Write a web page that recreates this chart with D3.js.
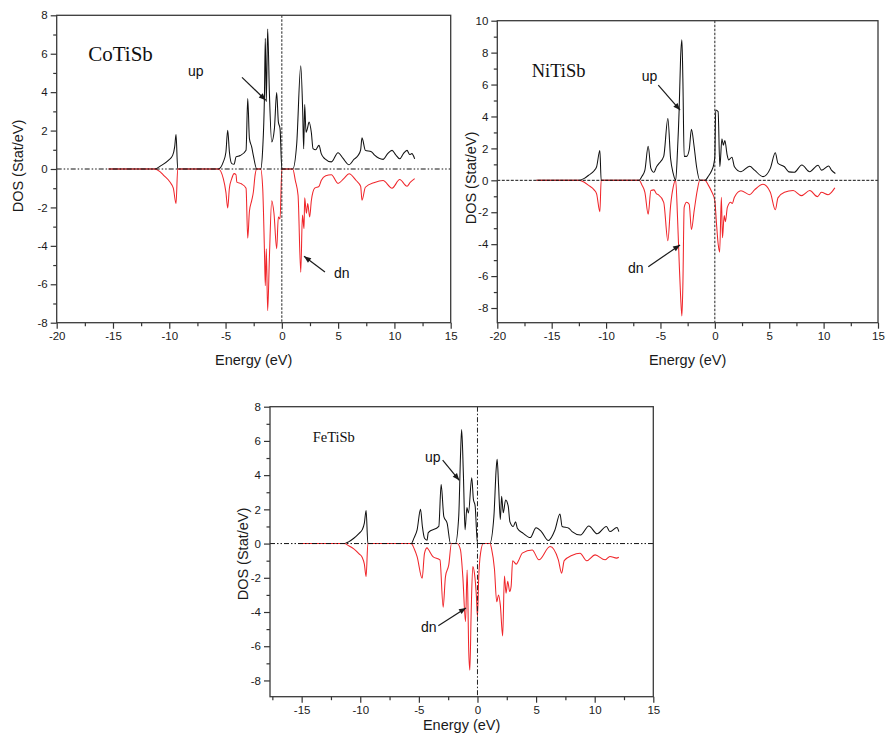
<!DOCTYPE html>
<html><head><meta charset="utf-8">
<script src="https://cdn.jsdelivr.net/npm/d3@7"></script>
<style>body{margin:0;background:#fff}svg{display:block}</style>
</head><body>
<svg id="c" width="886" height="736"></svg>
<script>
// ---------- DATA (Energy eV, DOS states/eV) ----------
const coTiSbUp = [[-15.4,0],[-11.3,0],[-10.7,0.19],[-10.08,0.45],[-9.7,0.71],[-9.52,1.15],[-9.4,1.8],[-9.25,0],[-5.64,0],[-5.2,0.37],[-4.97,0.87],[-4.81,2.02],[-4.66,0.9],[-4.45,0.28],[-4.24,0.25],[-4.07,0.63],[-3.7,0.7],[-3.18,0.98],[-3.03,3.67],[-2.88,1.58],[-2.68,1.15],[-2.53,0.7],[-2.23,0],[-1.88,0],[-1.7,1.06],[-1.55,3.67],[-1.47,6.8],[-1.38,3.5],[-1.26,7.29],[-1.1,3.85],[-0.9,1.41],[-0.66,2.1],[-0.46,3.98],[-0.31,2.45],[-0.16,2.1],[0,0],[0.97,0],[1.32,1.3],[1.68,5.37],[1.85,3.05],[1.94,1.05],[2.03,3.36],[2.15,1.9],[2.27,2.1],[2.42,2.45],[2.62,1.9],[2.77,1.06],[3.0,1.0],[3.3,1.23],[3.5,0.8],[3.8,0.54],[4.4,0.37],[4.99,0.85],[5.44,0.55],[5.97,0.22],[6.4,0.5],[6.77,0.7],[7.0,1.0],[7.12,1.62],[7.42,0.97],[7.95,0.9],[8.24,0.72],[8.99,0.5],[9.4,0.8],[9.79,0.97],[10.1,0.75],[10.47,0.53],[10.8,0.8],[11.12,0.97],[11.36,0.75],[11.55,0.8],[11.8,0.53]];
const coTiSbDn = [[-15.4,0],[-11.3,0],[-10.8,-0.15],[-10.5,-0.33],[-9.94,-0.68],[-9.64,-1.0],[-9.4,-1.8],[-9.25,0],[-5.64,0],[-5.2,-0.5],[-4.97,-1.2],[-4.81,-2.03],[-4.66,-1.0],[-4.45,-0.5],[-4.24,-0.24],[-4.07,-0.3],[-4.0,-0.68],[-3.6,-0.77],[-3.18,-1.0],[-3.03,-3.6],[-2.88,-2.2],[-2.68,-1.65],[-2.53,-1.2],[-2.38,-0.33],[-2.23,0],[-1.88,0],[-1.7,-1.0],[-1.55,-4.15],[-1.47,-6.07],[-1.38,-4.15],[-1.26,-7.37],[-1.1,-4.5],[-0.9,-1.65],[-0.7,-2.3],[-0.46,-4.15],[-0.31,-2.5],[-0.16,-2.6],[0,0],[0.97,0],[1.2,-0.6],[1.44,-1.37],[1.68,-5.37],[1.83,-2.4],[1.97,-3.1],[2.03,-1.5],[2.18,-2.3],[2.3,-1.8],[2.47,-2.5],[2.62,-1.65],[2.92,-1.0],[3.3,-0.9],[3.5,-0.6],[3.9,-0.35],[4.4,-0.3],[4.99,-0.75],[5.5,-0.5],[5.97,-0.25],[6.6,-0.6],[7.0,-0.9],[7.12,-1.63],[7.42,-0.95],[8.24,-0.7],[8.99,-0.6],[9.79,-1.0],[10.47,-0.55],[11.12,-0.9],[11.4,-0.7],[11.8,-0.5]];

const niTiSbUp = [[-16.4,0],[-12.56,0],[-12.0,0.12],[-11.6,0.32],[-11.1,0.6],[-10.87,0.85],[-10.57,1.87],[-10.45,0],[-6.95,0],[-6.7,0.25],[-6.43,0.64],[-6.13,2.13],[-5.88,0.75],[-5.6,0.5],[-5.36,0.85],[-5.2,1.0],[-4.7,1.5],[-4.32,3.87],[-4.07,1.38],[-3.83,0.43],[-3.6,0],[-3.43,1.9],[-3.28,4.45],[-3.15,7.65],[-3.03,8.8],[-2.94,6.4],[-2.82,1.5],[-2.6,1.5],[-2.36,1.9],[-2.15,3.2],[-1.92,2.2],[-1.68,0.85],[-1.38,0],[-0.9,0],[-0.6,0.25],[-0.3,0.6],[-0.1,1.0],[0,1.5],[0.08,4.4],[0.3,4.3],[0.46,0.85],[0.65,2.6],[0.78,2.2],[0.92,2.5],[1.13,1.6],[1.27,1.28],[1.57,1.45],[1.8,0.85],[2.4,0.54],[3.2,0.88],[3.65,0.64],[4.43,0.23],[5.1,0.75],[5.56,1.73],[5.8,1.07],[6.4,0.85],[6.8,0.53],[7.3,0.5],[8.0,0.96],[8.72,0.54],[9.49,0.95],[9.8,0.64],[10.47,0.9],[10.72,0.64],[11.08,0.43]];
const niTiSbDn = [[-16.4,0],[-12.56,0],[-12.0,-0.12],[-11.6,-0.32],[-11.1,-0.6],[-10.87,-0.85],[-10.57,-1.96],[-10.45,0],[-6.95,0],[-6.7,-0.3],[-6.43,-0.75],[-6.13,-2.13],[-5.88,-0.64],[-5.6,-0.6],[-5.36,-0.85],[-5.2,-0.9],[-4.7,-1.38],[-4.32,-3.79],[-4.07,-1.6],[-3.83,-0.43],[-3.6,0],[-3.43,-2.34],[-3.28,-5.1],[-3.15,-7.23],[-3.03,-8.5],[-2.94,-6.6],[-2.82,-1.7],[-2.6,-1.38],[-2.36,-1.5],[-2.15,-3.09],[-1.9,-1.9],[-1.62,-0.64],[-1.38,0],[-0.92,0],[-0.6,-0.3],[-0.3,-0.7],[0,-1.28],[0.13,-2.5],[0.3,-3.96],[0.44,-4.5],[0.6,-1.06],[0.7,-3.6],[0.86,-2.2],[0.97,-2.6],[1.15,-1.7],[1.45,-1.37],[1.6,-1.45],[1.8,-1.06],[2.4,-0.65],[3.2,-0.9],[3.65,-0.6],[4.43,-0.25],[5.1,-0.75],[5.56,-1.85],[5.8,-1.1],[6.4,-0.75],[7.2,-0.64],[7.96,-0.96],[8.73,-0.64],[9.43,-1.02],[9.8,-0.75],[10.41,-0.9],[10.72,-0.75],[11.03,-0.47]];

const feTiSbUp = [[-15.3,0],[-11.35,0],[-11.0,0.1],[-10.55,0.31],[-10.1,0.6],[-9.84,0.8],[-9.65,1.2],[-9.5,1.93],[-9.35,0],[-5.66,0],[-5.4,0.35],[-5.15,0.8],[-4.86,2.0],[-4.7,1.0],[-4.52,0.31],[-4.3,0.2],[-4.2,0.64],[-3.3,1.0],[-3.1,3.45],[-2.87,1.58],[-2.59,1.2],[-2.3,0],[-1.88,0],[-1.6,1.58],[-1.45,5.1],[-1.35,6.67],[-1.2,4.0],[-1.06,0.81],[-0.9,2.1],[-0.77,1.79],[-0.49,3.84],[-0.35,2.6],[-0.2,2.2],[0,0],[1.05,0],[1.4,1.58],[1.6,4.4],[1.68,4.92],[1.8,3.4],[1.95,1.4],[2.06,2.77],[2.2,1.8],[2.4,2.55],[2.62,2.2],[2.77,1.27],[3.05,1.0],[3.25,1.27],[3.4,0.9],[3.9,0.6],[4.5,0.35],[5.0,0.92],[5.45,0.7],[6.05,0.18],[6.6,0.78],[7.04,1.73],[7.22,1.0],[7.79,0.9],[8.07,0.7],[8.79,0.5],[9.5,1.03],[10.2,0.57],[11.0,1.0],[11.29,0.7],[11.9,0.94],[12.06,0.7]];
const feTiSbDn = [[-15.3,0],[-11.35,0],[-11.0,-0.12],[-10.55,-0.31],[-10.1,-0.6],[-9.84,-0.8],[-9.65,-1.2],[-9.5,-1.93],[-9.35,0],[-5.66,0],[-5.4,-0.3],[-5.15,-0.76],[-4.72,-2.03],[-4.52,-0.57],[-4.3,-0.25],[-4.2,-0.33],[-3.8,-0.76],[-3.2,-0.96],[-2.93,-3.72],[-2.73,-1.93],[-2.45,-1.25],[-2.22,0],[-1.73,0],[-1.45,-0.37],[-1.25,-1.93],[-1.02,-4.56],[-0.88,-1.54],[-0.74,-6.4],[-0.65,-7.4],[-0.54,-4.07],[-0.4,-1.34],[-0.26,-1.73],[-0.09,-3.1],[0,-4.27],[0.11,-1.93],[0.26,-0.57],[0.5,0],[1.07,0],[1.2,-0.3],[1.45,-1.5],[1.64,-3.4],[1.8,-3.0],[1.95,-3.6],[2.15,-5.4],[2.3,-1.9],[2.44,-2.9],[2.58,-2.2],[2.75,-2.8],[2.87,-2.5],[3.0,-1.0],[3.3,-1.2],[3.5,-1.0],[3.82,-0.56],[4.67,-0.37],[5.24,-0.95],[6.19,-0.17],[6.9,-0.95],[7.18,-1.73],[7.4,-1.0],[8.04,-0.7],[8.75,-0.56],[9.32,-1.0],[10.03,-0.66],[10.88,-0.95],[11.3,-0.75],[11.87,-0.85],[12.06,-0.8]];

// tick values
const xTicksA = [-20,-15,-10,-5,0,5,10,15];
const xMinorA = [-17.5,-12.5,-7.5,-2.5,2.5,7.5,12.5];
const xTicksB = [-15,-10,-5,0,5,10,15];
const xMinorB = [-17.5,-12.5,-7.5,-2.5,2.5,7.5,12.5];
const yTicks8 = [-8,-6,-4,-2,0,2,4,6,8];
const yMinor8 = [-7,-5,-3,-1,1,3,5,7];
const yTicks10 = [-8,-6,-4,-2,0,2,4,6,8,10];
const yMinor10 = [-7,-5,-3,-1,1,3,5,7,9];

// labels: [text, E, DOS]
const labelsCo = {name:["CoTiSb",-17.2,5.6], up:["up",-8.34,4.83], upArrow:[[-3.54,4.77],[-1.43,3.58]], dn:["dn",4.63,-5.69], dnArrow:[[3.83,-5.36],[1.97,-4.54]]};
const labelsNi = {name:["NiTiSb",-16.84,6.49], up:["up",-6.72,6.22], upArrow:[[-5.2,5.97],[-3.2,4.4]], dn:["dn",-7.98,-5.81], dnArrow:[[-6.12,-5.41],[-3.2,-4.05]]};
const labelsFe = {name:["FeTiSb",-14.06,5.91], up:["up",-4.48,4.76], upArrow:[[-2.97,4.88],[-1.55,3.70]], dn:["dn",-4.82,-5.15], dnArrow:[[-3.34,-4.80],[-0.98,-3.76]]};

// ---------- DRAW ----------
const svg = d3.select("#c");
svg.append("rect").attr("width",886).attr("height",736).attr("fill","#fff");
const defs = svg.append("defs");
defs.append("marker").attr("id","ah").attr("viewBox","0 0 10 10")
  .attr("refX",10).attr("refY",5).attr("markerWidth",8).attr("markerHeight",7)
  .attr("markerUnits","userSpaceOnUse").attr("orient","auto")
  .append("path").attr("d","M0,1 L10,5 L0,9 Z").attr("fill","#1a1a1a");

const SANS = "'Liberation Sans', Arial, sans-serif";
const SERIF = "'Liberation Serif', 'Times New Roman', serif";
const fmt = d => String(d);

function panel(o){
  const x = d3.scaleLinear().domain(o.xDom).range([o.l, o.r]);
  const y = d3.scaleLinear().domain(o.yDom).range([o.b, o.t]);
  const g = svg.append("g");
  const line = d3.line().x(d=>x(d[0])).y(d=>y(d[1])).curve(d3.curveMonotoneX);

  g.append("path").datum(o.up).attr("d",line).attr("fill","none")
    .attr("stroke","#111").attr("stroke-width",1.05).attr("stroke-linejoin","round");
  g.append("path").datum(o.dn).attr("d",line).attr("fill","none")
    .attr("stroke","#f0262b").attr("stroke-width",1.05).attr("stroke-linejoin","round");

  // zero reference lines
  g.append("line").attr("x1",o.l).attr("x2",o.r).attr("y1",y(0)).attr("y2",y(0))
    .attr("stroke","#111").attr("stroke-width",1).attr("stroke-dasharray",o.hDash);
  g.append("line").attr("x1",x(0)).attr("x2",x(0)).attr("y1",o.t).attr("y2",o.b)
    .attr("stroke","#222").attr("stroke-width",1).attr("stroke-dasharray",o.vDash);

  // axes
  const ax = g.append("g").attr("transform",`translate(0,${o.b})`)
    .call(d3.axisBottom(x).tickValues(o.xT).tickSize(6).tickPadding(3).tickFormat(fmt));
  const axm = g.append("g").attr("transform",`translate(0,${o.b})`)
    .call(d3.axisBottom(x).tickValues(o.xM).tickSize(3.5).tickFormat(""));
  const ay = g.append("g").attr("transform",`translate(${o.l},0)`)
    .call(d3.axisLeft(y).tickValues(o.yT).tickSize(6).tickPadding(3).tickFormat(fmt));
  const aym = g.append("g").attr("transform",`translate(${o.l},0)`)
    .call(d3.axisLeft(y).tickValues(o.yM).tickSize(3.5).tickFormat(""));
  [ax,axm,ay,aym].forEach(a=>{
    a.select(".domain").remove();
    a.selectAll("line").attr("stroke","#333").attr("stroke-width",1.2);
    a.selectAll("text").attr("fill","#1a1a1a").style("font-family",SANS).style("font-size","11.5px");
  });
  g.append("rect").attr("x",o.l).attr("y",o.t).attr("width",o.r-o.l).attr("height",o.b-o.t)
    .attr("fill","none").attr("stroke","#3a3a3a").attr("stroke-width",1.3);

  // axis titles
  g.append("text").attr("x",(o.l+o.r)/2).attr("y",o.xTitleY).attr("text-anchor","middle")
    .style("font-family",SANS).style("font-size","14.5px").attr("fill","#1a1a1a").text("Energy (eV)");
  g.append("text").attr("transform",`translate(${o.yTitleX},${o.yTitleY}) rotate(-90)`)
    .attr("text-anchor","middle").style("font-family",SANS).style("font-size","14.5px")
    .attr("fill","#1a1a1a").text("DOS (Stat/eV)");

  // annotations
  const L = o.labels;
  g.append("text").attr("x",x(L.name[1])).attr("y",y(L.name[2]))
    .style("font-family",SERIF).style("font-size",o.nameSize+"px").attr("fill","#111").text(L.name[0]);
  [["up","upArrow"],["dn","dnArrow"]].forEach(([k,a])=>{
    g.append("text").attr("x",x(L[k][1])).attr("y",y(L[k][2]))
      .style("font-family",SANS).style("font-size","14px").attr("fill","#111").text(L[k][0]);
    g.append("line").attr("x1",x(L[a][0][0])).attr("y1",y(L[a][0][1]))
      .attr("x2",x(L[a][1][0])).attr("y2",y(L[a][1][1]))
      .attr("stroke","#1a1a1a").attr("stroke-width",1.2).attr("marker-end","url(#ah)");
  });
}

panel({l:56.7,r:450.7,t:15.3,b:322.7,xDom:[-20,15],yDom:[-8,8],
  xT:xTicksA,xM:xMinorA,yT:yTicks8,yM:yMinor8,up:coTiSbUp,dn:coTiSbDn,
  hDash:"5,2,1.5,2,1.5,2",vDash:"2.5,1.5",xTitleY:365,yTitleX:23,yTitleY:166,
  labels:labelsCo,nameSize:21});
panel({l:497.3,r:878,t:20.7,b:322.7,xDom:[-20,15],yDom:[-8.92,10],
  xT:xTicksA,xM:xMinorA,yT:yTicks10,yM:yMinor10,up:niTiSbUp,dn:niTiSbDn,
  hDash:"3,1.5",vDash:"2.5,1.5",xTitleY:365,yTitleX:476,yTitleY:178,
  labels:labelsNi,nameSize:18.5});
panel({l:270,r:653.3,t:406.7,b:696.7,xDom:[-17.7,15],yDom:[-8.95,8],
  xT:xTicksB,xM:xMinorB,yT:yTicks8,yM:yMinor8,up:feTiSbUp,dn:feTiSbDn,
  hDash:"5,2,1.5,2,1.5,2",vDash:"5,2,1.5,2",xTitleY:730,yTitleX:247.5,yTitleY:554,
  labels:labelsFe,nameSize:14.5});
</script>
</body></html>
